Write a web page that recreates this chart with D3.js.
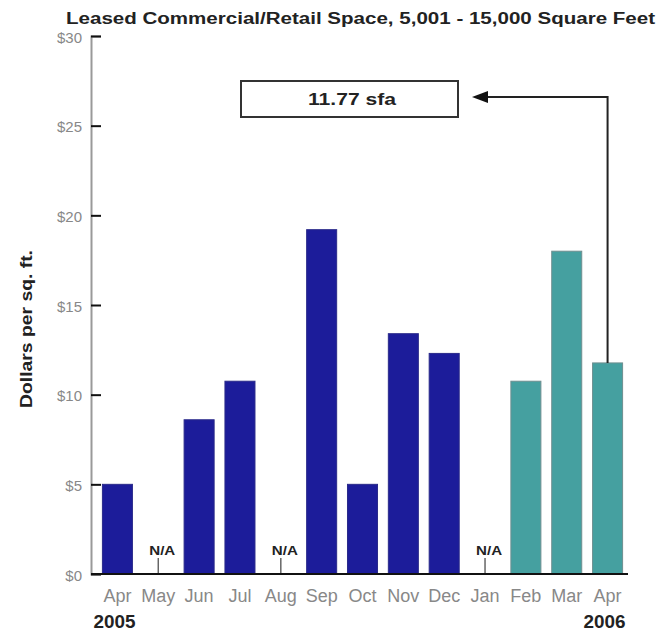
<!DOCTYPE html>
<html><head><meta charset="utf-8">
<script src="https://cdn.jsdelivr.net/npm/d3@7/dist/d3.min.js"></script>
<style>body{margin:0;background:#fff}</style>
</head><body>
<svg id="c" width="658" height="635"></svg>
<script>
const months = ["Apr","May","Jun","Jul","Aug","Sep","Oct","Nov","Dec","Jan","Feb","Mar","Apr"];
const keys = months.map((m,i)=>m+"_"+i);
const values = [5.0, null, 8.6, 10.75, null, 19.2, 5.0, 13.4, 12.3, null, 10.75, 18.0, 11.77];
const barGroup = ["prior","prior","prior","prior","prior","prior","prior","prior","prior","prior","recent","recent","recent"];
const yTicks = [0,5,10,15,20,25,30];
const yearLabels = [{idx:0,text:"2005"},{idx:12,text:"2006"}];
const title = "Leased Commercial/Retail Space, 5,001 - 15,000 Square Feet";
const calloutText = "11.77 sfa";
const calloutIdx = 12;

const svg = d3.select("#c");
const font = "'Liberation Sans',Arial,sans-serif";
const y = d3.scaleLinear().domain([0,30]).range([574,36]);
const x = d3.scaleBand().domain(keys).range([97,628]).paddingInner(0.265).paddingOuter(0.1325);

// Title
svg.append("text").attr("x",66).attr("y",24).attr("font-family",font).attr("font-weight","bold")
  .attr("font-size",16).attr("fill","#222").attr("textLength",589).attr("lengthAdjust","spacingAndGlyphs").text(title);

// Y axis
const yAxis = d3.axisRight(y).tickValues(yTicks).tickSize(10).tickFormat(d=>"$"+d);
const ga = svg.append("g").attr("transform","translate(91,0)").call(yAxis);
ga.select(".domain").attr("stroke","#999").attr("stroke-width",2);
ga.selectAll(".tick line").attr("stroke","#111").attr("stroke-width",2);
ga.selectAll(".tick text").attr("x",-9).attr("text-anchor","end").attr("font-family",font)
  .attr("font-size",15).attr("fill","#888").attr("dy","0.4em");

// Y label
svg.append("text").attr("transform","translate(32,329) rotate(-90)").attr("text-anchor","middle")
  .attr("font-family",font).attr("font-weight","bold").attr("font-size",17).attr("fill","#222")
  .attr("textLength",158).attr("lengthAdjust","spacingAndGlyphs").text("Dollars per sq. ft.");

// Bars
const data = keys.map((k,i)=>({k, v:values[i], g:barGroup[i], m:months[i]}));
svg.append("g").selectAll("rect").data(data.filter(d=>d.v!==null)).join("rect")
  .attr("x",d=>x(d.k)).attr("y",d=>y(d.v)).attr("width",x.bandwidth()).attr("height",d=>y(0)-y(d.v))
  .attr("fill",d=>d.g==="prior"?"#1c1c9a":"#45a0a0")
  .attr("stroke",d=>d.g==="prior"?"#2a2a8a":"#6f8f90").attr("stroke-width",1);

// N/A labels
const na = data.filter(d=>d.v===null);
const ng = svg.append("g");
ng.selectAll("line").data(na).join("line")
  .attr("x1",d=>x(d.k)+x.bandwidth()/2).attr("x2",d=>x(d.k)+x.bandwidth()/2)
  .attr("y1",y(0)-16).attr("y2",y(0)).attr("stroke","#666").attr("stroke-width",1.5);
ng.selectAll("text").data(na).join("text")
  .attr("x",d=>x(d.k)+x.bandwidth()/2+4).attr("y",y(0)-19).attr("text-anchor","middle")
  .attr("font-family",font).attr("font-weight","bold").attr("font-size",13).attr("fill","#222")
  .attr("textLength",26).attr("lengthAdjust","spacingAndGlyphs").text("N/A");

// X axis
const xAxis = d3.axisBottom(x).tickSize(0).tickFormat((d,i)=>months[i]);
const gx = svg.append("g").attr("transform","translate(0,574)").call(xAxis);
gx.select(".domain").remove();
svg.append("line").attr("x1",91).attr("x2",628).attr("y1",574).attr("y2",574).attr("stroke","#111").attr("stroke-width",2);
gx.selectAll(".tick text").attr("y",28).attr("dy",0).attr("font-family",font).attr("font-size",18).attr("fill","#888");

// Year labels
svg.append("g").selectAll("text").data(yearLabels).join("text")
  .attr("x",d=>x(keys[d.idx])+x.bandwidth()/2-3).attr("y",628).attr("text-anchor","middle")
  .attr("font-family",font).attr("font-weight","bold").attr("font-size",18).attr("fill","#222")
  .attr("textLength",42).attr("lengthAdjust","spacingAndGlyphs").text(d=>d.text);

// Callout
const bx = x(keys[calloutIdx])+x.bandwidth()/2;
svg.append("rect").attr("x",241).attr("y",81).attr("width",217).attr("height",36)
  .attr("fill","#fff").attr("stroke","#333").attr("stroke-width",2);
svg.append("text").attr("x",352).attr("y",105).attr("text-anchor","middle").attr("font-family",font)
  .attr("font-weight","bold").attr("font-size",17).attr("fill","#222")
  .attr("textLength",88).attr("lengthAdjust","spacingAndGlyphs").text(calloutText);
svg.append("path").attr("d",`M${bx},${y(values[calloutIdx])} V97 H486`).attr("fill","none").attr("stroke","#222").attr("stroke-width",2);
svg.append("path").attr("d","M472,97 L488,91 L488,103 Z").attr("fill","#111");
</script>
</body></html>
